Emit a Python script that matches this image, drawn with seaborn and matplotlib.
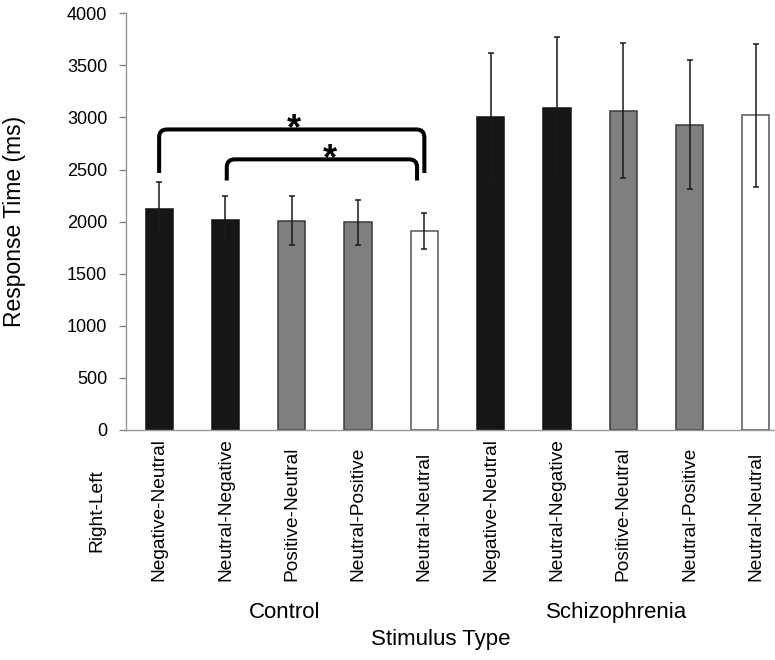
import pandas as pd
import numpy as np
import seaborn as sns
import matplotlib.pyplot as plt
from matplotlib.path import Path
from matplotlib.patches import PathPatch

# values
groups = ['Control', 'Schizophrenia']
stimuli = ['Negative-Neutral', 'Neutral-Negative', 'Positive-Neutral',
           'Neutral-Positive', 'Neutral-Neutral']
control_rt = [2125, 2020, 2010, 1995, 1910]
control_err = [255, 228, 238, 217, 171]
scz_rt = [3005, 3095, 3065, 2930, 3020]
scz_err = [615, 680, 650, 617, 687]

fill_colors = ['#161616', '#161616', '#7f7f7f', '#7f7f7f', '#ffffff']
edge_colors = ['#111111', '#111111', '#3a3a3a', '#3a3a3a', '#555555']

df = pd.DataFrame({
    'group': np.repeat(groups, len(stimuli)),
    'stimulus': stimuli * 2,
    'rt': control_rt + scz_rt,
    'err': control_err + scz_err,
})
df['key'] = df['group'] + ': ' + df['stimulus']

sns.set_style('white')
plt.rcParams['font.family'] = ['Liberation Sans', 'DejaVu Sans']
plt.rcParams['text.color'] = 'black'

fig = plt.figure(figsize=(7.75, 6.6), dpi=100)
ax = fig.add_axes([126 / 775, 230 / 660, 663 / 775, 416.7 / 660])

sns.barplot(data=df, x='key', y='rt', hue='key', palette=fill_colors * 2,
            legend=False, width=0.41, saturation=1, ax=ax)
for patch, ec in zip(ax.patches, edge_colors * 2):
    patch.set_edgecolor(ec)
    patch.set_linewidth(1.1)

xpos = np.arange(len(df))
ax.errorbar(xpos, df['rt'], yerr=df['err'], fmt='none', ecolor='#1a1a1a',
            elinewidth=1.1, capsize=2.2, capthick=1.1, zorder=3)

ax.set_xlim(-0.5, len(df) - 0.5)
ax.set_ylim(0, 4000)
ax.set_yticks(np.arange(0, 4001, 500))
ax.tick_params(axis='y', direction='out', length=5, width=1, color='#888888',
               labelcolor='black', labelsize=13, pad=8.5, left=True)
ax.set_xticks(xpos)
ax.set_xticklabels(df['stimulus'], rotation=90, va='bottom', fontsize=13.8)
ax.tick_params(axis='x', length=0, pad=109, labelcolor='black')
ax.set_xlabel('')
ax.set_ylabel('')
for side in ['top', 'right']:
    ax.spines[side].set_visible(False)
for side in ['left', 'bottom']:
    ax.spines[side].set_color('#999999')
    ax.spines[side].set_linewidth(1)


# significance brackets
def bracket(x0, x1, ytip, ytop, rx=0.12, ry=75):
    verts = [(x0, ytip), (x0, ytop - ry), (x0, ytop), (x0 + rx, ytop),
             (x1 - rx, ytop), (x1, ytop), (x1, ytop - ry), (x1, ytip)]
    codes = [Path.MOVETO, Path.LINETO, Path.CURVE3, Path.CURVE3,
             Path.LINETO, Path.CURVE3, Path.CURVE3, Path.LINETO]
    ax.add_patch(PathPatch(Path(verts, codes), fill=False, lw=2.9,
                           color='black', capstyle='butt', zorder=4))


bracket(0.0, 4.0, 2467, 2885)
bracket(1.02, 3.89, 2395, 2598)
ax.text(2.03, 2790, '*', ha='center', va='baseline', fontsize=26,
        fontweight='bold', zorder=5)
ax.text(2.58, 2505, '*', ha='center', va='baseline', fontsize=26,
        fontweight='bold', zorder=5)

# group labels and titles
for i, g in enumerate(groups):
    ax.text(i * 5 + 1.9, -0.4368, g, transform=ax.get_xaxis_transform(),
            ha='center', va='center', fontsize=16)
fig.text(97 / 775, (660 - 552) / 660, 'Right-Left', rotation=90,
         ha='center', va='bottom', fontsize=13.8)
fig.text(15 / 775, (660 - 221.5) / 660, 'Response Time (ms)', rotation=90,
         ha='center', va='center', fontsize=16.5)
fig.text(441 / 775, (660 - 640) / 660, 'Stimulus Type', ha='center',
         va='center', fontsize=16)

plt.savefig('out.png', dpi=100)
